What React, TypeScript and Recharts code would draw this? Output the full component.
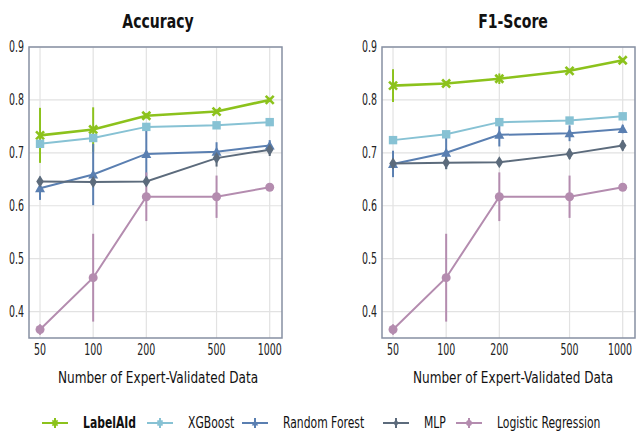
import React from "react";
import {
  LineChart,
  Line,
  XAxis,
  YAxis,
  CartesianGrid,
  ErrorBar,
  ReferenceArea,
} from "recharts";

// sizes of expert-validated data (x axis, log scale)
const sizes = [50, 100, 200, 500, 1000];
const yTicks = [0.4, 0.5, 0.6, 0.7, 0.8, 0.9];

// Accuracy
const accLabelAId = [0.733, 0.744, 0.77, 0.778, 0.8];
const accLabelAIdErr = [0.052, 0.042, 0.005, 0.004, 0.004];
const accXGBoost = [0.717, 0.728, 0.749, 0.752, 0.758];
const accXGBoostErr = [0.004, 0.004, 0.004, 0.003, 0.003];
const accRandomForest = [0.633, 0.659, 0.698, 0.702, 0.714];
const accRandomForestErr = [0.022, 0.058, 0.05, 0.018, 0.01];
const accMLP = [0.646, 0.645, 0.646, 0.69, 0.706];
const accMLPErr = [0.008, 0.006, 0.006, 0.016, 0.012];
const accLogReg = [0.366, 0.464, 0.617, 0.617, 0.635];
const accLogRegErr = [0.01, 0.083, 0.046, 0.04, 0.005];

// F1-Score
const f1LabelAId = [0.827, 0.831, 0.84, 0.855, 0.875];
const f1LabelAIdErr = [0.031, 0.004, 0.01, 0.004, 0.004];
const f1XGBoost = [0.724, 0.735, 0.758, 0.761, 0.769];
const f1XGBoostErr = [0.004, 0.004, 0.004, 0.003, 0.003];
const f1RandomForest = [0.679, 0.7, 0.734, 0.737, 0.745];
const f1RandomForestErr = [0.025, 0.03, 0.022, 0.015, 0.008];
const f1MLP = [0.68, 0.681, 0.682, 0.698, 0.714];
const f1MLPErr = [0.008, 0.012, 0.006, 0.01, 0.01];
const f1LogReg = [0.366, 0.464, 0.617, 0.617, 0.635];
const f1LogRegErr = [0.01, 0.083, 0.046, 0.04, 0.005];

// no condensed web font offline, so squeeze DejaVu Condensed horizontally
const FONT = "'DejaVu Sans Condensed', 'DejaVu Sans', sans-serif";

type Marker = "x" | "square" | "triangle" | "diamond" | "circle";

const series: { key: string; name: string; color: string; marker: Marker; width: number }[] = [
  { key: "labelaid", name: "LabelAId", color: "#8cc21c", marker: "x", width: 2.6 },
  { key: "xgboost", name: "XGBoost", color: "#87c2d4", marker: "square", width: 2 },
  { key: "rf", name: "Random Forest", color: "#5a7fb1", marker: "triangle", width: 2 },
  { key: "mlp", name: "MLP", color: "#5c6b7c", marker: "diamond", width: 2 },
  { key: "lr", name: "Logistic Regression", color: "#b48caf", marker: "circle", width: 2 },
];

// legend item left edges (layout only)
const legendLeft = [42, 147, 242, 383, 456];

function buildRows(vals: number[][], errs: number[][]) {
  return sizes.map((n, i) => {
    const row: Record<string, number> = { n };
    series.forEach((s, k) => {
      row[s.key] = vals[k][i];
      row[s.key + "Err"] = errs[k][i];
    });
    return row;
  });
}

const accRows = buildRows(
  [accLabelAId, accXGBoost, accRandomForest, accMLP, accLogReg],
  [accLabelAIdErr, accXGBoostErr, accRandomForestErr, accMLPErr, accLogRegErr]
);
const f1Rows = buildRows(
  [f1LabelAId, f1XGBoost, f1RandomForest, f1MLP, f1LogReg],
  [f1LabelAIdErr, f1XGBoostErr, f1RandomForestErr, f1MLPErr, f1LogRegErr]
);

function MarkerShape({ cx, cy, color, marker, scale = 1 }: { cx: number; cy: number; color: string; marker: Marker; scale?: number }) {
  const s = scale;
  if (marker === "x") {
    const d = 4 * s;
    return (
      <g stroke={color} strokeWidth={2.6 * s}>
        <line x1={cx - d} y1={cy - d} x2={cx + d} y2={cy + d} />
        <line x1={cx - d} y1={cy + d} x2={cx + d} y2={cy - d} />
      </g>
    );
  }
  if (marker === "square") {
    const d = 4.2 * s;
    return <rect x={cx - d} y={cy - d} width={2 * d} height={2 * d} fill={color} />;
  }
  if (marker === "triangle") {
    const d = 5 * s;
    return <polygon points={`${cx},${cy - d} ${cx + d},${cy + d * 0.8} ${cx - d},${cy + d * 0.8}`} fill={color} />;
  }
  if (marker === "diamond") {
    return (
      <polygon
        points={`${cx},${cy - 6 * s} ${cx + 3.8 * s},${cy} ${cx},${cy + 6 * s} ${cx - 3.8 * s},${cy}`}
        fill={color}
      />
    );
  }
  return <circle cx={cx} cy={cy} r={4.5 * s} fill={color} />;
}

const TICK_SQUEEZE = 0.7;

function XTick({ x, y, payload }: any) {
  return (
    <text
      x={x}
      y={y}
      dy="0.71em"
      textAnchor="middle"
      fontSize={15}
      fill="#222"
      fontFamily={FONT}
      transform={`translate(${x},0) scale(${TICK_SQUEEZE},1) translate(${-x},0)`}
    >
      {payload.value}
    </text>
  );
}

function YTick({ x, y, payload }: any) {
  return (
    <text
      x={x}
      y={y}
      dy="0.36em"
      textAnchor="end"
      fontSize={15}
      fill="#222"
      fontFamily={FONT}
      transform={`translate(${x},0) scale(${TICK_SQUEEZE},1) translate(${-x},0)`}
    >
      {Number(payload.value).toFixed(1)}
    </text>
  );
}

function Panel({ rows, left, width, marginRight }: { rows: Record<string, number>[]; left: number; width: number; marginRight: number }) {
  return (
    <div style={{ position: "absolute", left, top: 0 }}>
      <LineChart width={width} height={370} data={rows} margin={{ top: 47, right: marginRight, left: 0, bottom: 2 }}>
        <CartesianGrid stroke="#e2e2e2" strokeWidth={1.2} horizontalValues={yTicks} verticalValues={sizes} />
        <XAxis
          dataKey="n"
          type="number"
          scale="log"
          domain={[43.3, 1174]}
          allowDataOverflow
          ticks={sizes}
          height={30}
          tickLine={false}
          tickSize={0}
          tickMargin={6}
          axisLine={false}
          tick={<XTick />}
        />
        <YAxis
          type="number"
          domain={[0.35, 0.9]}
          allowDataOverflow
          ticks={yTicks}
          width={29}
          tickLine={false}
          tickSize={0}
          tickMargin={5}
          axisLine={false}
          tick={<YTick />}
        />
        {series.map((s) => (
          <Line
            key={s.key}
            dataKey={s.key}
            stroke={s.color}
            strokeWidth={s.width}
            isAnimationActive={false}
            dot={(p: any) => <MarkerShape key={`${s.key}-${p.index}`} cx={p.cx} cy={p.cy} color={s.color} marker={s.marker} />}
            activeDot={false}
          >
            <ErrorBar dataKey={s.key + "Err"} direction="y" width={0} stroke={s.color} strokeWidth={2} />
          </Line>
        ))}
        <ReferenceArea x1={43.3} x2={1174} y1={0.35} y2={0.9} fill="none" stroke="#8790a3" strokeWidth={1.5} ifOverflow="visible" />
      </LineChart>
    </div>
  );
}

export default function App() {
  const centered = (k: number) => ({
    position: "absolute" as const,
    transform: `translate(-50%, -50%) scaleX(${k})`,
    whiteSpace: "nowrap" as const,
    fontFamily: FONT,
    color: "#111",
  });
  return (
    <div style={{ position: "absolute", left: 0, top: 0, width: 636, height: 432, overflow: "hidden", background: "#fff" }}>
      <div style={{ ...centered(0.78), left: 158, top: 21, fontSize: 20, fontWeight: "bold" }}>Accuracy</div>
      <div style={{ ...centered(0.78), left: 513, top: 21, fontSize: 20, fontWeight: "bold" }}>F1-Score</div>
      <Panel rows={accRows} left={0} width={300} marginRight={18} />
      <Panel rows={f1Rows} left={353} width={283} marginRight={1} />
      <div style={{ ...centered(0.84), left: 158, top: 377, fontSize: 16 }}>Number of Expert-Validated Data</div>
      <div style={{ ...centered(0.84), left: 513, top: 377, fontSize: 16 }}>Number of Expert-Validated Data</div>
      {/* legend */}
      {series.map((s, i) => (
        <div key={s.key} style={{ position: "absolute", left: legendLeft[i], top: 413, height: 20, whiteSpace: "nowrap" }}>
          <svg width={26} height={20} style={{ position: "absolute", left: 0, top: 0 }}>
            <line x1={0} y1={10} x2={26} y2={10} stroke={s.color} strokeWidth={2} />
            <line x1={13} y1={5} x2={13} y2={15} stroke={s.color} strokeWidth={2} />
            <MarkerShape cx={13} cy={10} color={s.color} marker={s.marker} scale={0.65} />
          </svg>
          <span
            style={{
              position: "absolute",
              left: 41,
              top: 0,
              lineHeight: "20px",
              fontFamily: FONT,
              fontSize: 16,
              color: "#111",
              fontWeight: i === 0 ? "bold" : "normal",
              transform: "scaleX(0.75)",
              transformOrigin: "left center",
            }}
          >
            {s.name}
          </span>
        </div>
      ))}
    </div>
  );
}
